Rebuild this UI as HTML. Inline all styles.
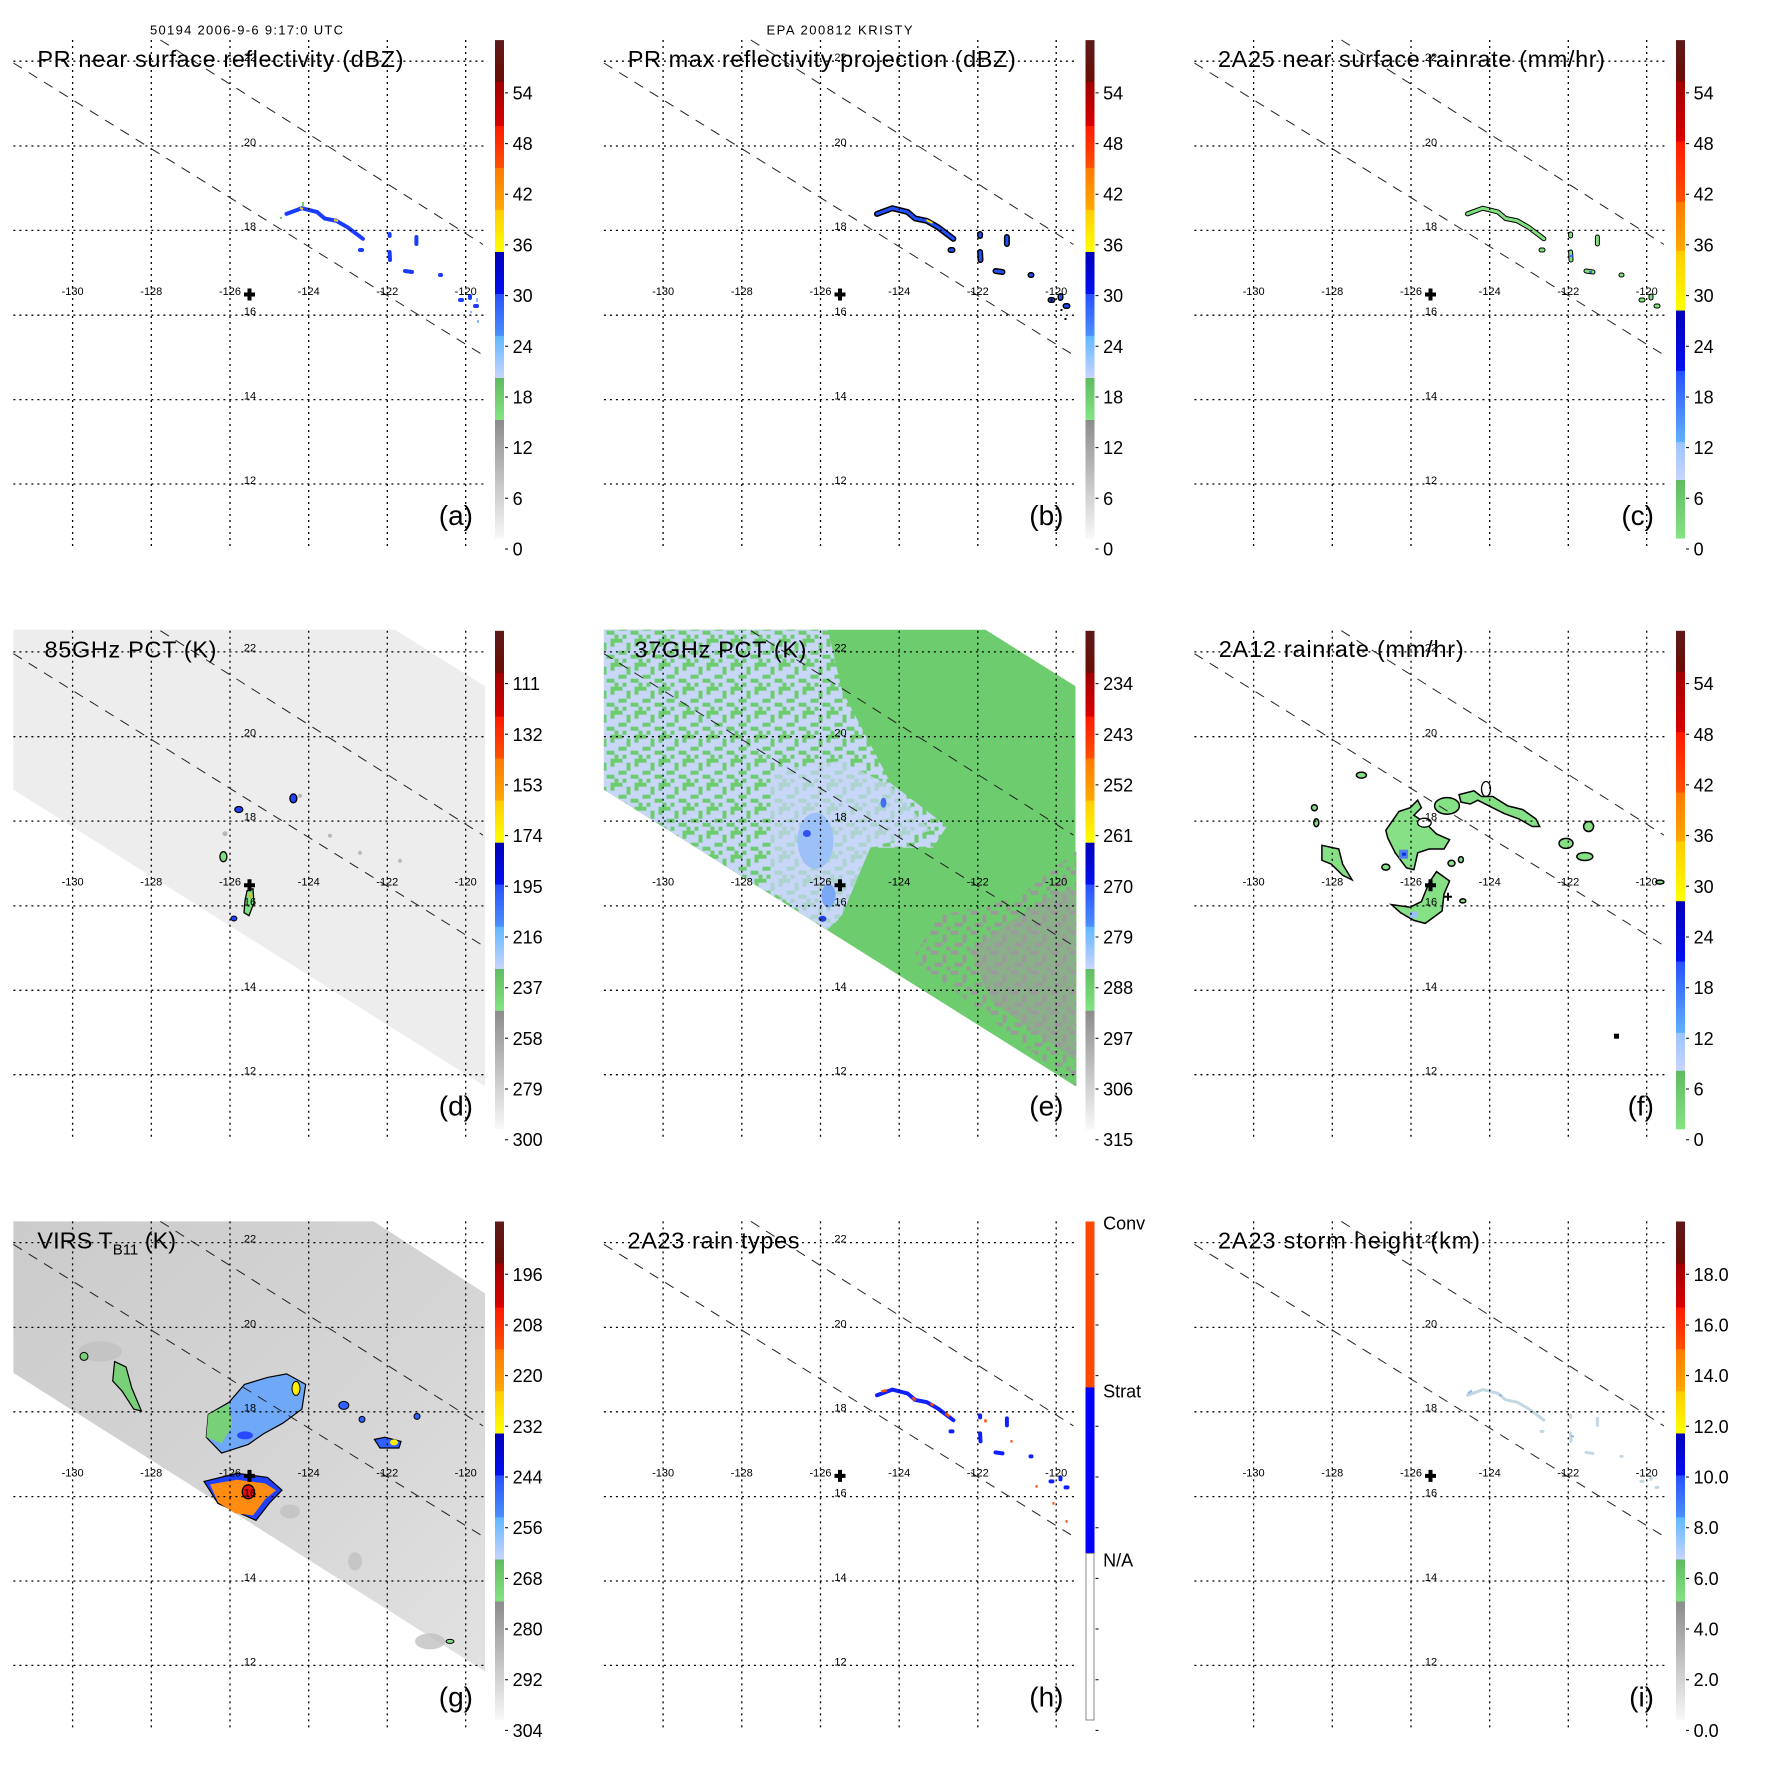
<!DOCTYPE html>
<html><head><meta charset="utf-8"><style>
html,body{margin:0;padding:0;background:#fff}
svg{display:block}
text{font-family:"Liberation Sans",Arial,sans-serif;fill:#000}
.t{font-size:23.5px}
.lab{font-size:11px;text-anchor:middle}
.cb{font-size:18px}
.pl{font-size:28px;text-anchor:end}
.hd{font-size:13px}
</style></head><body>
<svg width="1771" height="1771" viewBox="0 0 1771 1771" xmlns="http://www.w3.org/2000/svg">
<defs>
<linearGradient id="gA" x1="0" y1="0" x2="0" y2="1">
<stop offset="0" stop-color="#5c1a1a"/><stop offset=".084" stop-color="#6b0d05"/>
<stop offset=".0845" stop-color="#a00000"/><stop offset=".172" stop-color="#d80000"/>
<stop offset=".1725" stop-color="#ff1a00"/><stop offset=".256" stop-color="#ff5000"/>
<stop offset=".2568" stop-color="#ff7a00"/><stop offset=".340" stop-color="#ffa800"/>
<stop offset=".341" stop-color="#ffcc00"/><stop offset=".425" stop-color="#ffff00"/>
<stop offset=".4253" stop-color="#0000b8"/><stop offset=".509" stop-color="#0010f0"/>
<stop offset=".5095" stop-color="#2850ff"/><stop offset=".593" stop-color="#4a90ff"/>
<stop offset=".594" stop-color="#60b8ff"/><stop offset=".678" stop-color="#c8d4ff"/>
<stop offset=".6783" stop-color="#60bb60"/><stop offset=".762" stop-color="#84e484"/>
<stop offset=".7625" stop-color="#8c8c8c"/><stop offset="1" stop-color="#f8f8f8"/>
</linearGradient>
<linearGradient id="gC" x1="0" y1="0" x2="0" y2="1">
<stop offset="0" stop-color="#5c1a1a"/><stop offset=".082" stop-color="#6b0d05"/>
<stop offset=".083" stop-color="#a00000"/><stop offset=".203" stop-color="#d80000"/>
<stop offset=".204" stop-color="#ff1a00"/><stop offset=".324" stop-color="#ff5000"/>
<stop offset=".325" stop-color="#ff7a00"/><stop offset=".422" stop-color="#ffa800"/>
<stop offset=".423" stop-color="#ffcc00"/><stop offset=".542" stop-color="#ffff00"/>
<stop offset=".543" stop-color="#0000b8"/><stop offset=".663" stop-color="#0010f0"/>
<stop offset=".664" stop-color="#2850ff"/><stop offset=".806" stop-color="#60b0ff"/>
<stop offset=".807" stop-color="#9cc4ff"/><stop offset=".882" stop-color="#c8d4ff"/>
<stop offset=".883" stop-color="#60bb60"/><stop offset="1" stop-color="#84e484"/>
</linearGradient>
<linearGradient id="gG" x1="0" y1="0" x2="1" y2="1">
<stop offset="0" stop-color="#cbcbcb"/><stop offset=".6" stop-color="#d6d6d6"/><stop offset="1" stop-color="#e2e2e2"/>
</linearGradient>
<pattern id="mot" patternUnits="userSpaceOnUse" width="24" height="24">
<rect width="24" height="24" fill="#c8d6f8"/>
<g fill="#6dcc6d"><rect x="0" y="0" width="8" height="4"/><rect x="12" y="4" width="4" height="8"/><rect x="4" y="12" width="8" height="4"/><rect x="16" y="16" width="8" height="4"/><rect x="20" y="0" width="4" height="8"/><rect x="0" y="20" width="4" height="4"/><rect x="8" y="20" width="4" height="4"/></g>
</pattern>
<pattern id="mot2" patternUnits="userSpaceOnUse" width="20" height="20">
<rect width="20" height="20" fill="#6dcc6d"/>
<g fill="#9a9a9a"><rect x="0" y="0" width="8" height="4"/><rect x="12" y="4" width="4" height="8"/><rect x="4" y="12" width="8" height="4"/><rect x="16" y="16" width="4" height="4"/></g>
</pattern>
<g id="grid" fill="none">
<g stroke="#000" stroke-width="1.3" stroke-dasharray="2,4">
<path d="M72.6,40V546M151.3,40V546M230,40V546M308.7,40V546M387.3,40V546M465.7,40V546"/>
<path d="M13.4,61.2H485M13.4,146H485M13.4,230.4H485M13.4,315.2H485M13.4,399.6H485M13.4,484H485"/>
</g>
<g stroke="#222" stroke-width="1" stroke-dasharray="10,8">
<path d="M160.4,40L483,244.5M13.4,63L483,355"/>
</g>
<path d="M244,292.5h11v4h-11zM247.5,288.5h4v12h-4z" fill="#000" stroke="none"/>
<path d="M505,92.9h3M505,143.6h3M505,194.2h3M505,244.9h3M505,295.6h3M505,346.3h3M505,397h3M505,447.6h3M505,498.3h3M505,549h3" stroke="#000" stroke-width="1"/>
</g>
<g id="arcA" fill="none" stroke-linecap="round">
<path d="M286.5,213.9L301.8,208.2L317,212L324.7,218.5L336.2,220.8L347.6,227.3L362.9,238.8"/>
<path d="M389.6,252L390,260M405,271L412,272M416.4,237L416.4,244M389.6,234v2M360,250h2M440,275h1M460,300h2M475,306h2M470,296v2"/>
</g>
</defs>

<!-- ===== Panel a ===== -->
<g>
<use href="#arcA" stroke="#1a3cff" stroke-width="4"/>
<path d="M300,208l3,1M334,220l4,1" stroke="#ffcc00" stroke-width="2"/>
<path d="M303,202v4M280,218h2" stroke="#70d070" stroke-width="2"/>
<path d="M477,298v4M478,320v3M470,312h2" stroke="#8ab8ff" stroke-width="2"/>
<use href="#grid"/>
<rect x="495" y="40.1" width="9" height="498.5" fill="url(#gA)"/>
<text class="hd" x="150" y="34.4" textLength="193">50194 2006-9-6 9:17:0 UTC</text>
<text class="t" x="37.4" y="66.9" textLength="366">PR near surface reflectivity (dBZ)</text>
<text class="pl" x="473" y="525">(a)</text>
</g>
<!-- ===== Panel b ===== -->
<g transform="translate(590.5,0)">
<use href="#arcA" stroke="#000" stroke-width="6"/>
<use href="#arcA" stroke="#2050ff" stroke-width="3"/>
<path d="M336,220l6,3" stroke="#ffdd00" stroke-width="2"/>
<path d="M460,300h2M470,310h2M475,318v2" stroke="#000" stroke-width="2"/>
<use href="#grid"/>
<rect x="495" y="40.1" width="9" height="498.5" fill="url(#gA)"/>
<text class="hd" x="176" y="34.4" textLength="146">EPA 200812 KRISTY</text>
<text class="t" x="37.3" y="66.9" textLength="388">PR max reflectivity projection (dBZ)</text>
<text class="pl" x="473" y="525">(b)</text>
</g>
<!-- ===== Panel c ===== -->
<g transform="translate(1181,0)">
<use href="#arcA" stroke="#000" stroke-width="5"/>
<use href="#arcA" stroke="#80e080" stroke-width="3"/>
<path d="M389,256h3M408,272h3" stroke="#3060ff" stroke-width="2"/>
<use href="#grid"/>
<rect x="495" y="40.1" width="9" height="498.5" fill="url(#gC)"/>
<text class="t" x="37" y="66.9" textLength="387">2A25 near surface rainrate (mm/hr)</text>
<text class="pl" x="473" y="525">(c)</text>
</g>
<!-- ===== Panel d ===== -->
<g transform="translate(0,590.7)">
<polygon points="13.4,39 395,39 485,95.5 485,495.5 13.4,199" fill="#ededed"/>
<g fill="#b8b8b8"><circle cx="300" cy="205" r="2"/><circle cx="330" cy="245" r="2"/><circle cx="360" cy="262" r="2"/><circle cx="225" cy="243" r="2.5"/><circle cx="400" cy="270" r="2"/></g>
<ellipse cx="238.8" cy="218.8" rx="4" ry="3" fill="#2040ff" stroke="#000" stroke-width="1.3"/>
<ellipse cx="293.4" cy="207.7" rx="3.5" ry="4.5" fill="#2040ff" stroke="#000" stroke-width="1.3"/>
<ellipse cx="223.4" cy="266" rx="3.5" ry="5" fill="#80e080" stroke="#000" stroke-width="1.3"/>
<path d="M247,300 L253,298 L254,312 L249,325 L244,322 L245,310Z" fill="#80e080" stroke="#000" stroke-width="1.3"/>
<path d="M249,303l3,4" stroke="#ffb000" stroke-width="2"/>
<ellipse cx="233.9" cy="327.8" rx="3" ry="2.5" fill="#2040ff" stroke="#000" stroke-width="1"/>
<use href="#grid"/>
<rect x="495" y="40.1" width="9" height="498.5" fill="url(#gA)"/>
<text class="t" x="44.5" y="66.9" textLength="172">85GHz PCT (K)</text>
<text class="pl" x="473" y="525">(d)</text>
</g>
<!-- ===== Panel e ===== -->
<g transform="translate(590.5,590.7)">
<polygon points="13.4,39 395,39 485,95.5 485,495.5 13.4,199" fill="#6dcc6d"/>
<polygon points="13.4,39 237.4,39 251.4,99.8 300.4,192.7 356.4,235.6 342.4,257 279.4,257 251.4,325 237.4,339.6 13.4,199" fill="url(#mot)"/>
<polygon points="180,180 250,170 300,195 340,240 280,257 251,325 237,339 180,300" fill="#c8d6f8" opacity=".7"/>
<ellipse cx="225" cy="250" rx="18" ry="28" fill="#9cc0f8"/>
<ellipse cx="216.4" cy="242.8" rx="4" ry="3.5" fill="#3050f0"/>
<ellipse cx="238" cy="305" rx="7" ry="12" fill="#7aa8f6"/>
<ellipse cx="232" cy="328" rx="4" ry="3" fill="#2040e0"/>
<ellipse cx="293" cy="212" rx="3" ry="5" fill="#4070f0"/>
<polygon points="485.9,260.6 426.4,307 349.4,325 321.4,367.9 391.4,421.5 485.9,495.8" fill="url(#mot2)"/>
<polygon points="470,300 420,330 380,360 400,410 485,470 485,300" fill="#9c9c9c" opacity=".6"/>
<use href="#grid"/>
<rect x="495" y="40.1" width="9" height="498.5" fill="url(#gA)"/>
<text class="t" x="44" y="66.9" textLength="172">37GHz PCT (K)</text>
<text class="pl" x="473" y="525">(e)</text>
</g>
<!-- ===== Panel f ===== -->
<g transform="translate(1181,590.7)">
<g fill="#86e086" stroke="#000" stroke-width="1.5">
<polygon points="204.8,239.6 217.9,220.8 229.2,217 236.7,209.5 240.4,217 232.9,224.5 244.2,232.1 255.5,243.3 268.6,249 263,258.3 248,258.3 236.7,262.1 232.9,279 225.4,277.1 214.2,262.1 206.7,247.1"/>
<polygon points="210.4,313.9 229.2,316.5 240.4,310.9 248,292.1 255.5,280.9 268.6,290.3 263,303.4 261.1,320.3 244.2,332.7 232.9,329.7 219.8,322.2"/>
<polygon points="140.9,254.6 157.8,258.3 161.6,273.4 171,289.1 161.6,284.6 150.3,273.4 140.9,269.6"/>
<polygon points="278,203.9 293,200.1 300.5,205.8 311.8,205.8 326.8,215.2 341.8,218.9 355,228.3 358.7,235.8 351.2,235.8 338.1,228.3 323,222.7 308,215.2 296.8,209.5 289.3,213.3 279.9,211.4"/>
<ellipse cx="266" cy="215.2" rx="12.4" ry="8.3"/>
<ellipse cx="407.6" cy="235.8" rx="5" ry="5"/>
<ellipse cx="385" cy="252.7" rx="7" ry="5"/>
<ellipse cx="403.8" cy="265.8" rx="8" ry="4"/>
<ellipse cx="180.4" cy="184.4" rx="5" ry="3"/>
<ellipse cx="204.8" cy="276.4" rx="4" ry="3"/>
<ellipse cx="270.5" cy="272.6" rx="3.5" ry="3"/>
<ellipse cx="279.9" cy="268.9" rx="2.5" ry="3"/>
<ellipse cx="281.8" cy="310.2" rx="3" ry="2"/>
<ellipse cx="478.9" cy="291.4" rx="4" ry="2"/>
<ellipse cx="133.4" cy="217" rx="3" ry="3"/>
<ellipse cx="135.3" cy="232" rx="2.5" ry="4"/>
</g>
<ellipse cx="243.4" cy="232" rx="6.8" ry="4.5" fill="#fff" stroke="#000" stroke-width="1.3"/>
<ellipse cx="305" cy="198.3" rx="4.5" ry="7.5" fill="none" stroke="#000" stroke-width="1.3"/>
<rect x="218" y="259" width="9" height="9" fill="#5080f0"/><rect x="221" y="262" width="4" height="3" fill="#1030e0"/>
<rect x="229" y="321" width="8" height="6" fill="#9cc0ff"/>
<rect x="433" y="443" width="5" height="5" fill="#000"/>
<path d="M263,306h8M267,302v8" stroke="#000" stroke-width="2"/>
<use href="#grid"/>
<rect x="495" y="40.1" width="9" height="498.5" fill="url(#gC)"/>
<text class="t" x="37.7" y="66.5" textLength="245">2A12 rainrate (mm/hr)</text>
<text class="pl" x="473" y="525">(f)</text>
</g>
<!-- ===== Panel g ===== -->
<g transform="translate(0,1181.4)">
<polygon points="13.4,40 373.6,40 485,112 485,490 13.4,191.5" fill="url(#gG)"/>
<g fill="#c0c0c0" opacity=".8"><ellipse cx="100" cy="170" rx="22" ry="10"/><ellipse cx="355" cy="380" rx="7" ry="9"/><ellipse cx="290" cy="330" rx="10" ry="7"/><ellipse cx="430" cy="460" rx="15" ry="8"/></g>
<polygon points="114.6,180.2 126,185.5 131.8,206.6 141.4,229.5 133.7,227.7 122.3,210 112.7,199.5" fill="#78d078" stroke="#000" stroke-width="1.2"/>
<ellipse cx="84" cy="175" rx="4" ry="4" fill="#78d078" stroke="#000" stroke-width="1"/>
<polygon points="208.3,233 229.2,220.7 244.5,203 267.5,196 286.6,192.5 305.7,203 301.9,227.7 282.8,241.8 263.6,252.3 248.3,263 221.6,271.7 206.3,255.9" fill="#70a8f8" stroke="#000" stroke-width="1.2"/>
<polygon points="208.3,233 229.2,222 232,245 221.6,262 206.3,255.9" fill="#78d078"/>
<ellipse cx="245" cy="254" rx="8" ry="4" fill="#2848ff"/>
<ellipse cx="296" cy="207" rx="4" ry="7" fill="#ffee00" stroke="#000" stroke-width="1"/>
<polygon points="204,300 236.9,292 267.5,296 282,308.7 270,321 256,339 218,322" fill="#2040ff" stroke="#000" stroke-width="1.2"/>
<polygon points="210,303 236.9,298.3 265,302 276,309 265,318 253,334 235,331.8 218,321" fill="#ff8c10"/>
<ellipse cx="248.3" cy="310.4" rx="6" ry="7" fill="#e01010" stroke="#000" stroke-width="1.3"/>
<polygon points="374.4,258 385,255.9 401,260 399,266.6 380,266.6" fill="#3060ff" stroke="#000" stroke-width="1.2"/>
<ellipse cx="394" cy="261" rx="4" ry="3" fill="#ffee00"/>
<ellipse cx="343.8" cy="224" rx="5" ry="4" fill="#3060ff" stroke="#000" stroke-width="1"/>
<ellipse cx="362" cy="238" rx="3" ry="3" fill="#3060ff" stroke="#000" stroke-width="1"/>
<ellipse cx="417" cy="235" rx="3" ry="3" fill="#3060ff" stroke="#000" stroke-width="1"/>
<ellipse cx="450" cy="460" rx="4" ry="2" fill="#80e080" stroke="#000" stroke-width="1"/>
<use href="#grid"/>
<rect x="495" y="40.1" width="9" height="498.5" fill="url(#gA)"/>
<text class="t" x="37.4" y="66.9">VIRS T<tspan font-size="15" dy="6">B11</tspan><tspan dy="-6"> (K)</tspan></text>
<text class="pl" x="473" y="525">(g)</text>
</g>
<!-- ===== Panel h ===== -->
<g transform="translate(590.5,1181.4)">
<use href="#arcA" stroke="#1020ff" stroke-width="4"/>
<path d="M291,210l5,-1M322,216l3,3M340,222l3,2M355,232l4,3M395,238v3M420,260h2M445,305h2M462,322h2M475,340h2" stroke="#ff4a00" stroke-width="2.5" fill="none"/>
<use href="#grid"/>
<rect x="495" y="40.1" width="9" height="166" fill="#ff4a00"/>
<rect x="495" y="206" width="9" height="166" fill="#0000ff"/>
<rect x="495.5" y="372" width="8" height="166.6" fill="#fff" stroke="#888" stroke-width="1"/>
<text class="cb" x="512.6" y="48">Conv</text>
<text class="cb" x="512.6" y="216">Strat</text>
<text class="cb" x="512.6" y="385">N/A</text>
<text class="t" x="37" y="66.9" textLength="172">2A23 rain types</text>
<text class="pl" x="473" y="525">(h)</text>
</g>
<!-- ===== Panel i ===== -->
<g transform="translate(1181,1181.4)">
<use href="#arcA" stroke="#c4d8e4" stroke-width="3"/>
<path d="M287,212l4,-3M318,214h3M390,255h3" stroke="#90b8e8" stroke-width="2"/>
<use href="#grid"/>
<rect x="495" y="40.1" width="9" height="498.5" fill="url(#gA)"/>
<text class="t" x="37" y="66.9" textLength="262">2A23 storm height (km)</text>
<text class="pl" x="473" y="525">(i)</text>
</g>

<!-- lat/lon labels for all panels -->
<g class="lab"><text x="250" y="61">22</text><text x="250" y="146">20</text><text x="250" y="230">18</text><text x="250" y="315">16</text><text x="250" y="399.5">14</text><text x="250" y="484">12</text><text x="72.6" y="295">-130</text><text x="151.3" y="295">-128</text><text x="230" y="295">-126</text><text x="308.7" y="295">-124</text><text x="387.3" y="295">-122</text><text x="465.7" y="295">-120</text></g>
<g class="lab" transform="translate(590.5,0)"><text x="250" y="61">22</text><text x="250" y="146">20</text><text x="250" y="230">18</text><text x="250" y="315">16</text><text x="250" y="399.5">14</text><text x="250" y="484">12</text><text x="72.6" y="295">-130</text><text x="151.3" y="295">-128</text><text x="230" y="295">-126</text><text x="308.7" y="295">-124</text><text x="387.3" y="295">-122</text><text x="465.7" y="295">-120</text></g>
<g class="lab" transform="translate(1181,0)"><text x="250" y="61">22</text><text x="250" y="146">20</text><text x="250" y="230">18</text><text x="250" y="315">16</text><text x="250" y="399.5">14</text><text x="250" y="484">12</text><text x="72.6" y="295">-130</text><text x="151.3" y="295">-128</text><text x="230" y="295">-126</text><text x="308.7" y="295">-124</text><text x="387.3" y="295">-122</text><text x="465.7" y="295">-120</text></g>
<g class="lab" transform="translate(0,590.7)"><text x="250" y="61">22</text><text x="250" y="146">20</text><text x="250" y="230">18</text><text x="250" y="315">16</text><text x="250" y="399.5">14</text><text x="250" y="484">12</text><text x="72.6" y="295">-130</text><text x="151.3" y="295">-128</text><text x="230" y="295">-126</text><text x="308.7" y="295">-124</text><text x="387.3" y="295">-122</text><text x="465.7" y="295">-120</text></g>
<g class="lab" transform="translate(590.5,590.7)"><text x="250" y="61">22</text><text x="250" y="146">20</text><text x="250" y="230">18</text><text x="250" y="315">16</text><text x="250" y="399.5">14</text><text x="250" y="484">12</text><text x="72.6" y="295">-130</text><text x="151.3" y="295">-128</text><text x="230" y="295">-126</text><text x="308.7" y="295">-124</text><text x="387.3" y="295">-122</text><text x="465.7" y="295">-120</text></g>
<g class="lab" transform="translate(1181,590.7)"><text x="250" y="61">22</text><text x="250" y="146">20</text><text x="250" y="230">18</text><text x="250" y="315">16</text><text x="250" y="399.5">14</text><text x="250" y="484">12</text><text x="72.6" y="295">-130</text><text x="151.3" y="295">-128</text><text x="230" y="295">-126</text><text x="308.7" y="295">-124</text><text x="387.3" y="295">-122</text><text x="465.7" y="295">-120</text></g>
<g class="lab" transform="translate(0,1181.4)"><text x="250" y="61">22</text><text x="250" y="146">20</text><text x="250" y="230">18</text><text x="250" y="315">16</text><text x="250" y="399.5">14</text><text x="250" y="484">12</text><text x="72.6" y="295">-130</text><text x="151.3" y="295">-128</text><text x="230" y="295">-126</text><text x="308.7" y="295">-124</text><text x="387.3" y="295">-122</text><text x="465.7" y="295">-120</text></g>
<g class="lab" transform="translate(590.5,1181.4)"><text x="250" y="61">22</text><text x="250" y="146">20</text><text x="250" y="230">18</text><text x="250" y="315">16</text><text x="250" y="399.5">14</text><text x="250" y="484">12</text><text x="72.6" y="295">-130</text><text x="151.3" y="295">-128</text><text x="230" y="295">-126</text><text x="308.7" y="295">-124</text><text x="387.3" y="295">-122</text><text x="465.7" y="295">-120</text></g>
<g class="lab" transform="translate(1181,1181.4)"><text x="250" y="61">22</text><text x="250" y="146">20</text><text x="250" y="230">18</text><text x="250" y="315">16</text><text x="250" y="399.5">14</text><text x="250" y="484">12</text><text x="72.6" y="295">-130</text><text x="151.3" y="295">-128</text><text x="230" y="295">-126</text><text x="308.7" y="295">-124</text><text x="387.3" y="295">-122</text><text x="465.7" y="295">-120</text></g>

<!-- colorbar labels -->
<g class="cb">
<g transform="translate(512.6,0)"><text y="99.4">54</text><text y="150.1">48</text><text y="200.7">42</text><text y="251.4">36</text><text y="302.1">30</text><text y="352.8">24</text><text y="403.5">18</text><text y="454.1">12</text><text y="504.8">6</text><text y="555.5">0</text></g>
<g transform="translate(1103.1,0)"><text y="99.4">54</text><text y="150.1">48</text><text y="200.7">42</text><text y="251.4">36</text><text y="302.1">30</text><text y="352.8">24</text><text y="403.5">18</text><text y="454.1">12</text><text y="504.8">6</text><text y="555.5">0</text></g>
<g transform="translate(1693.6,0)"><text y="99.4">54</text><text y="150.1">48</text><text y="200.7">42</text><text y="251.4">36</text><text y="302.1">30</text><text y="352.8">24</text><text y="403.5">18</text><text y="454.1">12</text><text y="504.8">6</text><text y="555.5">0</text></g>
<g transform="translate(512.6,590.7)"><text y="99.4">111</text><text y="150.1">132</text><text y="200.7">153</text><text y="251.4">174</text><text y="302.1">195</text><text y="352.8">216</text><text y="403.5">237</text><text y="454.1">258</text><text y="504.8">279</text><text y="555.5">300</text></g>
<g transform="translate(1103.1,590.7)"><text y="99.4">234</text><text y="150.1">243</text><text y="200.7">252</text><text y="251.4">261</text><text y="302.1">270</text><text y="352.8">279</text><text y="403.5">288</text><text y="454.1">297</text><text y="504.8">306</text><text y="555.5">315</text></g>
<g transform="translate(1693.6,590.7)"><text y="99.4">54</text><text y="150.1">48</text><text y="200.7">42</text><text y="251.4">36</text><text y="302.1">30</text><text y="352.8">24</text><text y="403.5">18</text><text y="454.1">12</text><text y="504.8">6</text><text y="555.5">0</text></g>
<g transform="translate(512.6,1181.4)"><text y="99.4">196</text><text y="150.1">208</text><text y="200.7">220</text><text y="251.4">232</text><text y="302.1">244</text><text y="352.8">256</text><text y="403.5">268</text><text y="454.1">280</text><text y="504.8">292</text><text y="555.5">304</text></g>
<g transform="translate(1693.6,1181.4)"><text y="99.4">18.0</text><text y="150.1">16.0</text><text y="200.7">14.0</text><text y="251.4">12.0</text><text y="302.1">10.0</text><text y="352.8">8.0</text><text y="403.5">6.0</text><text y="454.1">4.0</text><text y="504.8">2.0</text><text y="555.5">0.0</text></g>
</g>
</svg>
</body></html>
